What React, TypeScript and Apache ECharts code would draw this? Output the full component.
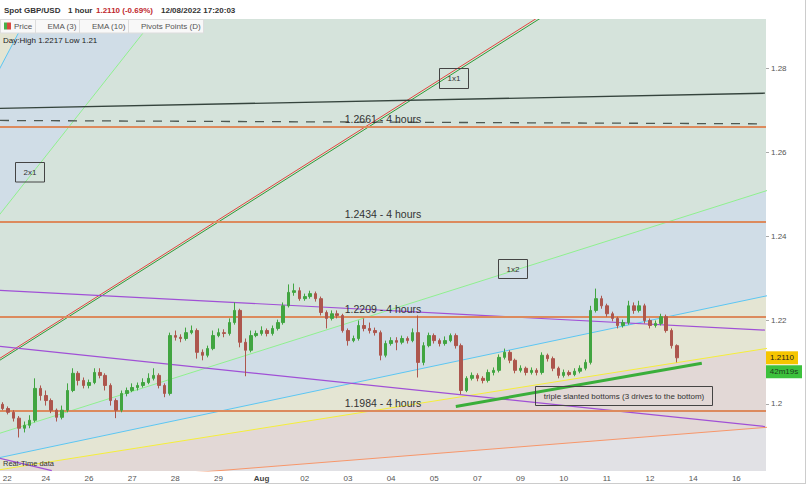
import React, { useEffect, useRef } from "react";
import * as echarts from "echarts";

// ---------- data ----------
const dateLabels = ["22", "24", "26", "27", "28", "29", "Aug", "02", "03", "04", "05", "07", "09", "10", "11", "12", "14", "16"];
const barsPerLabel = 8; // 3-hour bars, one label per trading day
const slotCount = 142;

const firstOpen = 1.1999;
const closes = [
  1.1989, 1.1980, 1.1966, 1.1942, 1.1949, 1.1961, 1.2037, 1.2020, 1.2008, 1.1985,
  1.1968, 1.1985, 1.2032, 1.2073, 1.2056, 1.2044, 1.2051, 1.2075, 1.2068, 1.2044,
  1.2008, 1.1985, 1.2025, 1.2032, 1.2039, 1.2044, 1.2051, 1.2061, 1.2068, 1.2044,
  1.2025, 1.2163, 1.2159, 1.2156, 1.2170, 1.2175, 1.2123, 1.2116, 1.2132, 1.2163,
  1.2170, 1.2168, 1.2194, 1.2223, 1.2147, 1.2128, 1.2163, 1.2168, 1.2175, 1.2168,
  1.2180, 1.2194, 1.2234, 1.2266, 1.2270, 1.2251, 1.2256, 1.2263, 1.2251, 1.2218,
  1.2204, 1.2215, 1.2211, 1.2175, 1.2151, 1.2156, 1.2187, 1.2180, 1.2175, 1.2170,
  1.2116, 1.2144, 1.2151, 1.2147, 1.2156, 1.2151, 1.2170, 1.2099, 1.2139, 1.2163,
  1.2151, 1.2144, 1.2151, 1.2163, 1.2139, 1.2032, 1.2061, 1.2068, 1.2061, 1.2056,
  1.2075, 1.2080, 1.2111, 1.2123, 1.2104, 1.2080, 1.2085, 1.2075, 1.2080, 1.2075,
  1.2116, 1.2108, 1.2085, 1.2068, 1.2075, 1.2070, 1.2078, 1.2085, 1.2099, 1.2223,
  1.2251, 1.2234, 1.2215, 1.2204, 1.2187, 1.2194, 1.2234, 1.2223, 1.2234, 1.2199,
  1.2187, 1.2192, 1.2208, 1.2175, 1.2139, 1.2110,
];
const highs = [
  1.2004, 1.1994, 1.1985, 1.1971, 1.1958, 1.1973, 1.2061, 1.2044, 1.2032, 1.2013,
  1.1989, 1.1996, 1.2049, 1.2085, 1.2078, 1.2063, 1.2058, 1.2085, 1.2085, 1.2073,
  1.2049, 1.2013, 1.2032, 1.2039, 1.2049, 1.2051, 1.2061, 1.2073, 1.2085, 1.2073,
  1.2049, 1.2170, 1.2175, 1.2166, 1.2182, 1.2187, 1.2180, 1.2130, 1.2139, 1.2175,
  1.2180, 1.2178, 1.2204, 1.2242, 1.2227, 1.2156, 1.2175, 1.2175, 1.2185, 1.2180,
  1.2187, 1.2201, 1.2242, 1.2285, 1.2287, 1.2278, 1.2263, 1.2270, 1.2268, 1.2256,
  1.2223, 1.2223, 1.2223, 1.2215, 1.2180, 1.2163, 1.2199, 1.2204, 1.2194, 1.2182,
  1.2175, 1.2151, 1.2159, 1.2159, 1.2163, 1.2161, 1.2180, 1.2211, 1.2147, 1.2170,
  1.2168, 1.2156, 1.2161, 1.2168, 1.2168, 1.2144, 1.2066, 1.2075, 1.2073, 1.2066,
  1.2082, 1.2087, 1.2118, 1.2132, 1.2128, 1.2108, 1.2092, 1.2089, 1.2087, 1.2085,
  1.2123, 1.2120, 1.2113, 1.2089, 1.2082, 1.2080, 1.2085, 1.2092, 1.2106, 1.2234,
  1.2275, 1.2258, 1.2239, 1.2220, 1.2208, 1.2201, 1.2246, 1.2242, 1.2246, 1.2239,
  1.2204, 1.2199, 1.2215, 1.2213, 1.2180, 1.2142,
];
const lows = [
  1.1985, 1.1975, 1.1958, 1.1920, 1.1932, 1.1942, 1.1956, 1.2008, 1.1996, 1.1978,
  1.1958, 1.1963, 1.1980, 1.2028, 1.2044, 1.2037, 1.2037, 1.2047, 1.2061, 1.2032,
  1.1996, 1.1966, 1.1980, 1.2018, 1.2028, 1.2032, 1.2039, 1.2047, 1.2056, 1.2037,
  1.2016, 1.2020, 1.2151, 1.2147, 1.2151, 1.2166, 1.2108, 1.2104, 1.2111, 1.2128,
  1.2159, 1.2159, 1.2163, 1.2189, 1.2135, 1.2066, 1.2123, 1.2159, 1.2163, 1.2161,
  1.2163, 1.2175, 1.2189, 1.2230, 1.2258, 1.2246, 1.2246, 1.2251, 1.2244, 1.2211,
  1.2180, 1.2199, 1.2204, 1.2170, 1.2139, 1.2147, 1.2151, 1.2173, 1.2168, 1.2163,
  1.2104, 1.2111, 1.2139, 1.2128, 1.2142, 1.2144, 1.2147, 1.2063, 1.2092, 1.2135,
  1.2144, 1.2137, 1.2139, 1.2147, 1.2132, 1.2023, 1.2028, 1.2056, 1.2054, 1.2049,
  1.2051, 1.2068, 1.2075, 1.2106, 1.2097, 1.2073, 1.2075, 1.2068, 1.2070, 1.2068,
  1.2070, 1.2101, 1.2078, 1.2061, 1.2063, 1.2066, 1.2066, 1.2073, 1.2080, 1.2094,
  1.2218, 1.2227, 1.2208, 1.2197, 1.2180, 1.2182, 1.2189, 1.2215, 1.2218, 1.2192,
  1.2180, 1.2182, 1.2187, 1.2170, 1.2132, 1.2099,
];

const pivotLevels = [1.2661, 1.2434, 1.2209, 1.1984];
const pivotLabel = "4 hours";
const yTicks = [1.2, 1.22, 1.24, 1.26, 1.28];
const yMin = 1.184;
const yMax = 1.2918;

// Gann fan: origin (bar index, price), 1x1 step in price per bar
const fanOrigin = [-43.3, 1.1756];
const fanStep = 0.000814;
const fanBounds = [8, 3, 2, 1, 1 / 2, 1 / 3, 1 / 4, 1 / 8, 0];
const fanLineRatios = [3, 2, 1, 1 / 2, 1 / 3, 1 / 4, 1 / 8];
const fan1x1Companion = [[-0.5, 1.2109], [100, 1.2928]];

// drawn lines (bar index, price)
const darkLine = [[-0.5, 1.2705], [141.3, 1.2741]];
const dashedLine = [[-0.5, 1.2676], [141.3, 1.2668]];
const purpleUpper = [[-0.5, 1.2271], [141.3, 1.2176]];
const purpleLower = [[-0.5, 1.2137], [141.3, 1.1946]];
const purpleShort = [[-0.5, 1.1870], [9.1, 1.1841]];
const bottomsTrend = [[84.0, 1.1994], [129.6, 1.2097]];

const header = { symbol: "Spot GBP/USD", period: "1 hour", change: "1.2110 (-0.69%)", time: "12/08/2022 17:20:03" };
const legendNames = ["Price", "EMA (3)", "EMA (10)", "Pivots Points (D)"];
const dayInfo = "Day:High 1.2217 Low 1.21";
const countdown = "42m19s";

// ---------- styles ----------
const FONT = "Liberation Sans, Arial, sans-serif";
const zoneColors = ["#e4e5d3", "#d0dde7", "#d5e3db", "#d5e3db", "#d0dde7", "#e4e5d3", "#e2d8d6", "#e1e1e5"];
const fanLineColors = ["#5cc6f2", "#8ff08f", "#2f9a35", "#8ff08f", "#5cc6f2", "#f5ee3a", "#f7966a"];

function txt(text: string, x: number, y: number, o: any = {}) {
  return {
    type: "text",
    z: 100,
    style: {
      text, x, y,
      fill: o.fill || "#555",
      fontSize: o.size || 8,
      fontWeight: o.weight || "normal",
      fontFamily: FONT,
      align: o.align || "left",
      verticalAlign: "middle",
      textAlign: o.align || "left",
      textVerticalAlign: "middle",
    },
  };
}
function box(x: number, y: number, w: number, h: number, o: any = {}) {
  return {
    type: "rect",
    z: 99,
    shape: { x, y, width: w, height: h },
    style: { fill: o.fill || "none", stroke: o.stroke || "#444", lineWidth: o.lw || 1 },
  };
}

export default function App() {
  const ref = useRef<HTMLDivElement>(null);
  useEffect(() => {
    document.body.style.margin = "0";
    const chart = echarts.init(ref.current!, undefined, { renderer: "svg" });
    const candles = closes.map((c, i) => [i === 0 ? firstOpen : closes[i - 1], c, lows[i], highs[i]]);
    const slots = Array.from({ length: slotCount }, (_, i) => String(i));

    const mkLine = (pts: number[][], color: string, width: number, type: any = "solid", z = 2) => ({
      type: "line",
      xAxisIndex: 1,
      yAxisIndex: 0,
      data: pts,
      symbol: "none",
      silent: true,
      clip: true,
      z,
      lineStyle: { color, width, type },
    });

    const farBar = 200;
    const fanLines = fanLineRatios.map((r, i) =>
      mkLine(
        [fanOrigin, [farBar, fanOrigin[1] + r * fanStep * (farBar - fanOrigin[0])]],
        fanLineColors[i],
        1,
        "solid",
        2
      )
    );

    const option: any = {
      animation: false,
      textStyle: { fontFamily: FONT },
      grid: {
        left: 0, right: 40, top: 19, bottom: 13,
        outerBoundsMode: "none",
        containLabel: false,
        show: true, backgroundColor: "#e1e1e5", borderWidth: 0,
      },
      xAxis: [
        {
          type: "category",
          data: slots,
          boundaryGap: true,
          axisLine: { show: false },
          axisTick: { show: false },
          splitLine: { show: false },
          axisLabel: {
            interval: barsPerLabel - 1,
            margin: 3,
            fontSize: 8,
            color: "#555",
            fontFamily: FONT,
            alignMinLabel: "left",
            formatter: (_v: string, idx: number) => {
              const l = dateLabels[Math.round(idx / barsPerLabel)];
              if (idx % barsPerLabel !== 0 || l === undefined) return "";
              return l === "Aug" ? "{b|Aug}" : l;
            },
            rich: { b: { fontWeight: "bold", fontSize: 8, color: "#444", fontFamily: FONT } },
          },
        },
        { type: "value", min: -0.5, max: slotCount - 0.5, show: false },
      ],
      yAxis: {
        type: "value",
        position: "right",
        min: yMin,
        max: yMax,
        splitLine: { show: false },
        axisLine: { show: false },
        axisTick: { show: false },
        axisLabel: {
          customValues: yTicks,
          fontSize: 8,
          color: "#555",
          margin: 5,
          fontFamily: FONT,
          formatter: (v: number) => String(v),
        },
      },
      series: [
        {
          type: "custom",
          xAxisIndex: 1,
          yAxisIndex: 0,
          silent: true,
          clip: true,
          z: 0,
          data: zoneColors.map((_, i) => [0, yMin + 0.001, i]),
          encode: { x: 0, y: 1 },
          renderItem: (params: any, api: any) => {
            const i = params.dataIndex;
            const hi = fanBounds[i];
            const lo = fanBounds[i + 1];
            const dx = farBar - fanOrigin[0];
            const pts = [
              api.coord(fanOrigin),
              api.coord([farBar, fanOrigin[1] + hi * fanStep * dx]),
              api.coord([farBar, fanOrigin[1] + lo * fanStep * dx]),
            ];
            return { type: "polygon", shape: { points: pts }, style: { fill: zoneColors[i], stroke: null } };
          },
        },
        ...fanLines,
        mkLine(fan1x1Companion, "#e0473d", 1, "solid", 2),
        mkLine(darkLine, "#35443d", 1.3, "solid", 3),
        mkLine(dashedLine, "#4d5852", 1.3, [9, 8], 3),
        mkLine(purpleUpper, "#a050d6", 1.2, "solid", 3),
        mkLine(purpleLower, "#a050d6", 1.2, "solid", 3),
        mkLine(purpleShort, "#a050d6", 1.2, "solid", 3),
        {
          type: "candlestick",
          xAxisIndex: 0,
          yAxisIndex: 0,
          data: candles,
          barWidth: 3,
          z: 5,
          silent: true,
          itemStyle: {
            color: "#41a541",
            color0: "#ad564d",
            borderColor: "#41a541",
            borderColor0: "#ad564d",
            borderWidth: 1,
          },
          markLine: {
            silent: true,
            precision: 4,
            symbol: ["none", "none"],
            animation: false,
            lineStyle: { color: "#dc8a5d", width: 2, type: "solid" },
            label: {
              position: "insideMiddleTop",
              distance: 2,
              fontSize: 10.5,
              color: "#333",
              fontFamily: FONT,
              formatter: (p: any) => `${Number(p.value).toFixed(4)} - ${pivotLabel}`,
            },
            data: pivotLevels.map((v) => ({ yAxis: v })),
          },
        },
        mkLine(bottomsTrend, "#3aae3a", 3, "solid", 6),
      ],
    };
    chart.setOption(option);

    const last = closes[closes.length - 1];
    const py = chart.convertToPixel({ yAxisIndex: 0 }, last) as number;
    const tickMarks = yTicks.map((v) => {
      const ty = Math.round(chart.convertToPixel({ yAxisIndex: 0 }, v) as number) + 0.5;
      return { type: "line", z: 100, shape: { x1: 766, y1: ty, x2: 769, y2: ty }, style: { stroke: "#aaa", lineWidth: 1 } };
    });

    const graphic: any[] = [
      { type: "rect", z: 98, shape: { x: 0, y: 0, width: 806, height: 19 }, style: { fill: "#fff" } },
      txt(header.symbol, 4, 10.5, { weight: "bold", fill: "#333", size: 8 }),
      txt(header.period, 68, 10.5, { weight: "bold", fill: "#333", size: 8 }),
      txt(header.change, 96, 10.5, { weight: "bold", fill: "#c0262d", size: 8 }),
      txt(header.time, 161, 10.5, { weight: "bold", fill: "#333", size: 8 }),
      box(0.5, 19.5, 35, 13.5, { fill: "#f8f8f8", stroke: "#ddd" }),
      box(35.5, 19.5, 44, 13.5, { fill: "#f8f8f8", stroke: "#ddd" }),
      box(79.5, 19.5, 49, 13.5, { fill: "#f8f8f8", stroke: "#ddd" }),
      box(128.5, 19.5, 75, 13.5, { fill: "#f8f8f8", stroke: "#ddd" }),
      { type: "rect", z: 100, shape: { x: 4, y: 22.5, width: 3, height: 7 }, style: { fill: "#49b049" } },
      { type: "rect", z: 100, shape: { x: 7, y: 22.5, width: 4, height: 7 }, style: { fill: "#d9493f" } },
      txt(legendNames[0], 14, 26.5),
      txt(legendNames[1], 47.5, 26.5),
      txt(legendNames[2], 92, 26.5),
      txt(legendNames[3], 141, 26.5),
      txt(dayInfo, 3, 40, { fill: "#222" }),
      txt("Real-Time data", 3, 463, { fill: "#333", size: 7.5 }),
      box(439.5, 68.5, 29, 20),
      txt("1x1", 454, 78.5, { align: "center", fill: "#333" }),
      box(15.5, 162.5, 29, 19.5),
      txt("2x1", 30, 172, { align: "center", fill: "#333" }),
      box(498.5, 259.5, 29, 19),
      txt("1x2", 513, 269, { align: "center", fill: "#333" }),
      box(535.5, 386.5, 177, 19),
      txt("triple slanted bottoms (3 drives to the bottom)", 624, 396, { align: "center", fill: "#333" }),
      ...tickMarks,
      { type: "rect", z: 100, shape: { x: 766, y: py - 6.5, width: 32, height: 13 }, style: { fill: "#f6c500" } },
      txt(last.toFixed(4), 782, py, { align: "center", fill: "#222" }),
      { type: "rect", z: 100, shape: { x: 766, y: py + 7.5, width: 36, height: 13 }, style: { fill: "#3cc13c" } },
      txt(countdown, 784, py + 14, { align: "center", fill: "#1d3d1d" }),
      { type: "line", z: 100, shape: { x1: 805.5, y1: 0, x2: 805.5, y2: 484 }, style: { stroke: "#ccc", lineWidth: 1 } },
      { type: "line", z: 100, shape: { x1: 0, y1: 483.5, x2: 806, y2: 483.5 }, style: { stroke: "#ccc", lineWidth: 1 } },
    ];
    chart.setOption({ graphic });

    return () => chart.dispose();
  }, []);
  return <div ref={ref} style={{ width: 806, height: 484 }} />;
}
